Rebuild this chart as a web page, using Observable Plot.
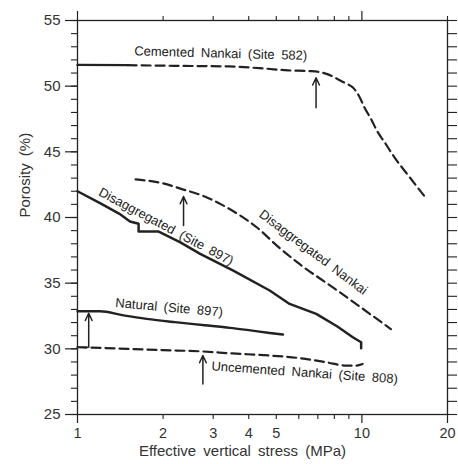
<!DOCTYPE html>
<html><head><meta charset="utf-8">
<script src="https://cdn.jsdelivr.net/npm/d3@7"></script>
<script src="https://cdn.jsdelivr.net/npm/@observablehq/plot@0.6"></script>
<style>
html,body{margin:0;padding:0;background:#fff;}
svg{font-family:"Liberation Sans",Arial,sans-serif;}
g[aria-label="text"] text{word-spacing:3px;}
</style></head><body><div id="chart"></div>
<script>
// Cemented Nankai (Site 582)
const cementedSolidX = [1, 1.5];
const cementedSolidY = [51.62, 51.6];
const cementedDashX = [1.5, 2.2, 3.4, 4.5, 5.5, 6.5, 7.0, 7.6, 8.2, 8.8, 9.3, 9.8, 10.2, 10.8, 11.3, 12.0, 13.0, 14.5, 16.9];
const cementedDashY = [51.6, 51.55, 51.5, 51.35, 51.2, 51.15, 51.1, 50.9, 50.55, 50.2, 49.9, 49.2, 48.4, 47.45, 46.6, 45.75, 44.6, 43.25, 41.4];
// Disaggregated (Site 897)
const disaggX = [1, 1.2, 1.4, 1.53, 1.64, 1.64, 1.93, 2.3, 2.7, 3.53, 4.74, 5.57, 6.91, 8.2, 9.29, 9.94, 9.94];
const disaggY = [42.0, 41.1, 40.3, 39.7, 39.52, 38.93, 38.93, 38.1, 37.23, 35.96, 34.44, 33.42, 32.66, 31.7, 30.88, 30.5, 30.05];
// Disaggregated Nankai
const disaggNankaiX = [1.6, 2.0, 2.3, 2.8, 3.2, 3.7, 4.3, 5.0, 6.0, 8.0, 10.0, 12.65];
const disaggNankaiY = [42.9, 42.6, 42.2, 41.6, 41.0, 40.2, 39.2, 37.9, 36.5, 34.6, 33.1, 31.5];
// Natural (Site 897)
const naturalX = [1, 1.2, 1.45, 1.75, 2.2, 2.8, 3.44, 4.0, 4.74, 5.28];
const naturalY = [32.86, 32.86, 32.55, 32.28, 32.03, 31.8, 31.6, 31.42, 31.21, 31.09];
// Uncemented Nankai (Site 808)
const uncementedX = [1, 1.5, 2.0, 2.7, 3.5, 4.74, 6.0, 7.49, 8.8, 9.5, 10.06];
const uncementedY = [30.12, 30.0, 29.9, 29.81, 29.65, 29.49, 29.3, 28.98, 28.72, 28.72, 28.85];
// Arrows (x, tail, tip)
const arrowX = [6.9, 2.36, 1.095, 2.76];
const arrowFrom = [48.35, 39.39, 30.12, 27.33];
const arrowTo = [50.64, 41.6, 32.71, 29.49];
// Curve labels
const labelText = ["Cemented Nankai (Site 582)", "Disaggregated (Site 897)", "Disaggregated Nankai", "Natural (Site 897)", "Uncemented Nankai (Site 808)"];
const labelX = [3.19, 2.05, 6.75, 2.10, 6.29];
const labelY = [52.49, 39.31, 37.35, 33.14, 28.19];
const labelAngle = [1.5, 28, 37, 5, 4];
// Axes
const yMajor = [25, 30, 35, 40, 45, 50, 55];
const yMinor = d3.range(25, 56, 1);
const xLabelTicks = [1, 2, 3, 4, 5, 10, 20];
const xMinorTicks = [2, 3, 4, 5, 6, 7, 8, 9];

const zip = (xs, ys) => xs.map((x, i) => ({x, y: ys[i]}));
const arrows = arrowX.map((x, i) => ({x, from: arrowFrom[i], to: arrowTo[i]}));
const labels = labelText.map((t, i) => ({t, x: labelX[i], y: labelY[i], r: labelAngle[i]}));
const ink = "#222";

const chart = Plot.plot({
  width: 458, height: 464,
  marginLeft: 77, marginRight: 11, marginTop: 20, marginBottom: 50,
  x: {type: "log", domain: [1, 20]},
  y: {domain: [25, 55]},
  style: {fontFamily: "'Liberation Sans', Arial, sans-serif", fontSize: "15px", color: ink, background: "#fff"},
  marks: [
    Plot.frame({stroke: ink, strokeWidth: 1.3}),
    Plot.axisY({ticks: yMajor, tickSize: 12, text: null, label: null, stroke: ink, strokeWidth: 1.2}),
    Plot.axisY({ticks: yMinor, tickSize: 6, text: null, label: null, stroke: ink, strokeWidth: 1.1}),
    Plot.axisY({ticks: yMajor, tickSize: 0, tickPadding: 17, label: null, fill: "#333", fontSize: 15}),
    Plot.axisY({anchor: "right", ticks: yMinor, tickSize: 9, text: null, label: null, stroke: ink, strokeWidth: 1.1}),
    Plot.axisX({anchor: "top", ticks: xMinorTicks.concat([20]), tickSize: 5, text: null, label: null, stroke: ink, strokeWidth: 1.1}),
    Plot.axisX({anchor: "top", ticks: [1, 10], tickSize: 10, text: null, label: null, stroke: ink, strokeWidth: 1.2}),
    Plot.axisX({anchor: "bottom", ticks: xMinorTicks, tickSize: 5, text: null, label: null, stroke: ink, strokeWidth: 1.1}),
    Plot.axisX({anchor: "bottom", ticks: [1, 10, 20], tickSize: 9, text: null, label: null, stroke: ink, strokeWidth: 1.2}),
    Plot.axisX({anchor: "bottom", ticks: xLabelTicks, tickSize: 0, tickPadding: 13, tickFormat: d => String(d), label: null, fill: "#333", fontSize: 14.5}),
    Plot.text(["Porosity (%)"], {frameAnchor: "left", dx: -52, rotate: -90, fontSize: 15, fill: "#333"}),
    Plot.text(["Effective vertical stress (MPa)"], {frameAnchor: "bottom", dx: -20, dy: 41, fontSize: 15, fill: "#333"}),
    Plot.line(zip(cementedSolidX, cementedSolidY), {x: "x", y: "y", stroke: ink, strokeWidth: 2.4}),
    Plot.line(zip(cementedDashX, cementedDashY), {x: "x", y: "y", stroke: ink, strokeWidth: 2.2, strokeDasharray: "9,5", curve: "monotone-x"}),
    Plot.line(zip(disaggX, disaggY), {x: "x", y: "y", stroke: ink, strokeWidth: 2.5}),
    Plot.line(zip(disaggNankaiX, disaggNankaiY), {x: "x", y: "y", stroke: ink, strokeWidth: 2.2, strokeDasharray: "9,5", curve: "monotone-x"}),
    Plot.line(zip(naturalX, naturalY), {x: "x", y: "y", stroke: ink, strokeWidth: 2.4, curve: "monotone-x"}),
    Plot.line(zip(uncementedX, uncementedY), {x: "x", y: "y", stroke: ink, strokeWidth: 2.2, strokeDasharray: "9,5", curve: "monotone-x"}),
    Plot.ruleY([arrowFrom[2]], {x1: 1, x2: arrowX[2], stroke: ink, strokeWidth: 1.5}),
    Plot.arrow(arrows, {x1: "x", y1: "from", x2: "x", y2: "to", stroke: ink, strokeWidth: 1.5, headLength: 8, headAngle: 50}),
    Plot.text(labels, {x: "x", y: "y", text: "t", rotate: "r", fontSize: 13, fill: ink})
  ]
});
document.getElementById("chart").appendChild(chart);
</script></body></html>
